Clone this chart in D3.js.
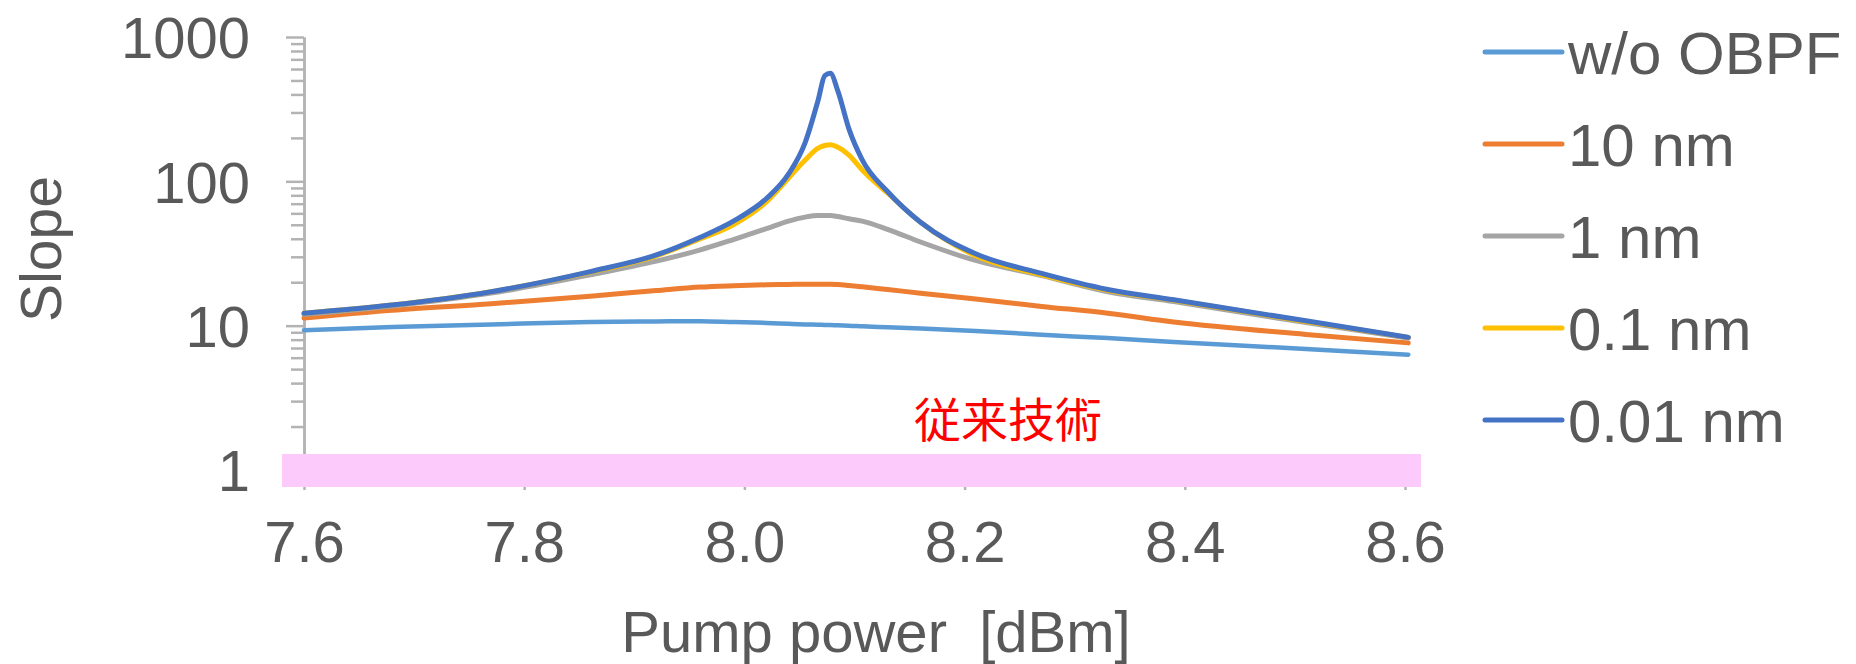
<!DOCTYPE html>
<html>
<head>
<meta charset="utf-8">
<script src="https://cdn.jsdelivr.net/npm/d3@7"></script>
<style>
  body { margin: 0; padding: 0; background: #fff; }
  svg { display: block; font-family: 'Liberation Sans', Arial, sans-serif; }
  .axis text { fill: #595959; font-size: 58px; font-family: 'Liberation Sans', Arial, sans-serif; }
  .axis path, .axis line { stroke: #b3b3b3; stroke-width: 2.5; }
</style>
</head>
<body>
<svg id="chart" width="1856" height="664"></svg>
<script>
// pump power [dBm]
const pumpPower = [7.60, 7.68, 7.77, 7.86, 7.92, 7.96, 7.99, 8.02, 8.04, 8.055, 8.067, 8.073, 8.078, 8.085, 8.095, 8.107, 8.13, 8.16, 8.21, 8.27, 8.33, 8.39, 8.51, 8.603]

const slopeNoFilter = [9.3, 9.8, 10.2, 10.6, 10.7, 10.75, 10.6, 10.45, 10.3, 10.2, 10.15, 10.12, 10.1, 10.05, 10.0, 9.9, 9.75, 9.55, 9.2, 8.65, 8.2, 7.7, 6.9, 6.3]
const slope10nm = [11.3, 12.8, 14.2, 16.0, 17.5, 18.5, 18.9, 19.2, 19.3, 19.4, 19.4, 19.4, 19.4, 19.3, 19.0, 18.6, 17.8, 16.8, 15.3, 13.6, 12.2, 10.6, 8.7, 7.6]
const slope1nm = [12.0, 13.7, 16.8, 22.5, 28.0, 33.5, 39.5, 47, 53, 56.5, 58, 58, 58, 57, 55, 53, 46.5, 38, 28.3, 22.2, 17.2, 14.7, 10.5, 8.2]
const slope01nm = [12.2, 13.9, 17.2, 23.5, 30.5, 40, 50, 72, 105, 140, 170, 177, 179, 172, 152, 120, 83, 52, 30.5, 22.5, 17.6, 15.0, 10.7, 8.3]
const slope001nm = [12.2, 13.9, 17.2, 23.7, 30.9, 41, 53, 76, 112, 184, 366, 540, 560, 420, 230, 141, 85, 52, 31.5, 23, 17.8, 15.1, 10.8, 8.3]

const seriesNames = ['w/o OBPF', '10 nm', '1 nm', '0.1 nm', '0.01 nm']
const seriesColors = ['#5b9bd5', '#ed7d31', '#a5a5a5', '#ffc000', '#4472c4']
const seriesValues = [slopeNoFilter, slope10nm, slope1nm, slope01nm, slope001nm]

const xTicks = [7.6, 7.8, 8.0, 8.2, 8.4, 8.6]
const yMajor = [1, 10, 100, 1000]

const svg = d3.select('#chart')

const x = d3.scaleLinear().domain([7.6, 8.6]).range([304, 1405])
const y = d3.scaleLog().domain([1, 1000]).range([470, 37])

// minor ticks 2..9 of each decade
const yMinor = []
yMajor.slice(0, 3).forEach(d => { for (let k = 2; k < 10; k++) yMinor.push(d * k) })

svg.append('g')
  .attr('class', 'axis')
  .attr('transform', 'translate(304,0)')
  .call(d3.axisLeft(y).tickValues(yMinor).tickSize(13).tickSizeOuter(0).tickFormat(''))

svg.append('g')
  .attr('class', 'axis')
  .attr('transform', 'translate(304,0)')
  .call(d3.axisLeft(y).tickValues(yMajor).tickSize(18).tickSizeOuter(0).tickPadding(36).tickFormat(d3.format('d')))
  .selectAll('text').attr('dy', '0.36em')

svg.append('g')
  .attr('class', 'axis')
  .attr('transform', `translate(0,${y(1)})`)
  .call(d3.axisBottom(x).tickValues(xTicks).tickSize(20).tickSizeOuter(0).tickPadding(31).tickFormat(d3.format('.1f')))

// highlight band over the x axis
svg.append('rect')
  .attr('x', 282).attr('y', 454)
  .attr('width', 1139).attr('height', 33)
  .attr('fill', '#fccbfc')

const line = d3.line()
  .x((d, i) => x(pumpPower[i]))
  .y(d => y(d))
  .curve(d3.curveMonotoneX)

svg.append('g')
  .selectAll('path')
  .data(seriesValues)
  .enter()
  .append('path')
  .attr('d', d => line(d))
  .attr('fill', 'none')
  .attr('stroke', (d, i) => seriesColors[i])
  .attr('stroke-width', (d, i) => i === 0 ? 4.5 : 5)
  .attr('stroke-linejoin', 'round')
  .attr('stroke-linecap', 'round')

// legend
const legend = svg.append('g')
  .selectAll('g')
  .data(seriesNames)
  .enter()
  .append('g')
  .attr('transform', (d, i) => `translate(1485,${52 + i * 92})`)

legend.append('line')
  .attr('x1', 0).attr('x2', 77)
  .attr('stroke', (d, i) => seriesColors[i])
  .attr('stroke-width', 5)
  .attr('stroke-linecap', 'round')

legend.append('text')
  .text(d => d)
  .attr('x', 83)
  .attr('dy', '0.36em')
  .attr('fill', '#595959')
  .style('font-size', '60px')

// axis titles
svg.append('text')
  .text('Slope')
  .attr('transform', 'translate(40,249) rotate(-90)')
  .attr('text-anchor', 'middle')
  .attr('dy', '0.36em')
  .attr('fill', '#595959')
  .style('font-size', '57px')

svg.append('text')
  .text('Pump power  [dBm]')
  .attr('x', 876).attr('y', 652)
  .attr('text-anchor', 'middle')
  .attr('fill', '#595959')
  .style('font-size', '58px')
  .style('white-space', 'pre')

svg.append('text')
  .text('従来技術')
  .attr('x', 1008).attr('y', 437)
  .attr('text-anchor', 'middle')
  .attr('fill', '#ff0000')
  .style('font-family', "'Noto Sans CJK JP', sans-serif")
  .style('font-size', '47px')
</script>
</body>
</html>
